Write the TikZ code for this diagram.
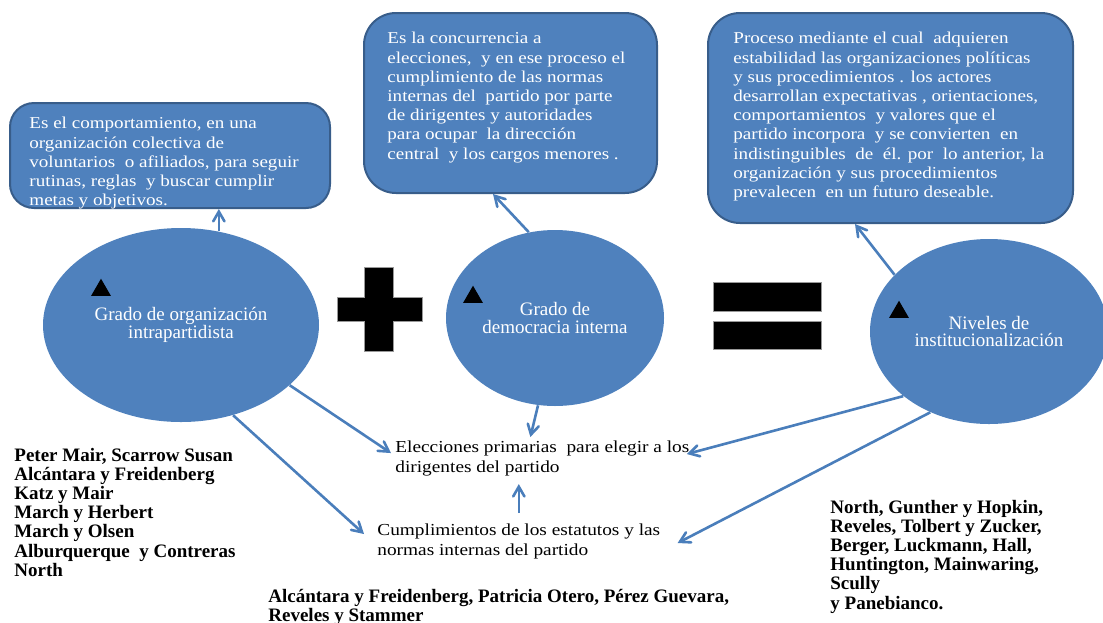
\documentclass[tikz,border=0pt]{standalone}
\usepackage{fontspec}
\setmainfont{Liberation Serif}
\newfontfamily\widefont[FakeStretch=1.15]{Liberation Serif}
\definecolor{colfill}{RGB}{79,129,189}
\definecolor{colborder}{RGB}{56,93,138}
\definecolor{colarrow}{RGB}{74,126,187}
\usetikzlibrary{
	arrows,
	shapes.geometric
}
\tikzset{
	>=angle 60,
	textbox/.style={rectangle, rounded corners=12pt, fill=colfill, draw=colborder, line width=1pt},
	boxtext/.style={anchor=north west, inner sep=0pt, align=left, text=white, font=\widefont\fontsize{8.3}{9.6}\selectfont},
	conceptnode/.style={ellipse, fill=colfill, inner sep=0pt, align=center, text=white, font=\fontsize{9.5}{8.7}\selectfont},
	linkedge/.style={->, line width=1.3pt, color=colarrow},
	plaintext/.style={anchor=north west, inner sep=0pt, align=left, font=\widefont\fontsize{8.4}{10}\selectfont},
	authortext/.style={anchor=north west, inner sep=0pt, align=left, font=\fontsize{9.5}{9.55}\selectfont\bfseries},
	marktri/.style={regular polygon, regular polygon sides=3, fill=black, inner sep=0pt, minimum size=11.5pt},
	opsign/.style={fill=black, draw=black!40, line width=0.4pt}
}

\begin{document}
\begin{tikzpicture}[x=0.5pt, y=-0.5pt]
	\useasboundingbox (0,0) rectangle (1103,622);

	% definition boxes
	\node[textbox, rounded corners=12pt, minimum width=160pt, minimum height=52.5pt] (box1) at (170,155.5) {};
	\node[textbox, rounded corners=16pt, minimum width=146.5pt, minimum height=90pt] (box2) at (510.5,103) {};
	\node[textbox, rounded corners=16pt, minimum width=182.5pt, minimum height=105pt] (box3) at (890.5,118) {};

	\node[boxtext] (txt1) at ([xshift=10pt, yshift=-7.5pt]box1.north west)
		{Es el comportamiento, en una\\
		organización colectiva de\\
		voluntarios~ o afiliados, para seguir\\
		rutinas, reglas~ y buscar cumplir\\
		metas y objetivos.};
	\node[boxtext] (txt2) at ([xshift=12pt, yshift=-10pt]box2.north west)
		{Es la concurrencia a\\
		elecciones,~ y en ese proceso el\\
		cumplimiento de las normas\\
		internas del~ partido por parte\\
		de dirigentes y autoridades\\
		para ocupar~ la dirección\\
		central~ y los cargos menores .};
	\node[boxtext] (txt3) at ([xshift=13pt, yshift=-10pt]box3.north west)
		{Proceso mediante el cual~ adquieren\\
		estabilidad las organizaciones políticas\\
		y sus procedimientos . los actores\\
		desarrollan expectativas , orientaciones,\\
		comportamientos~ y valores que el\\
		partido incorpora~ y se convierten~ en\\
		indistinguibles~ de~ él. por~ lo anterior, la\\
		organización y sus procedimientos\\
		prevalecen~ en un futuro deseable.};

	% concepts
	\node[conceptnode, minimum width=138pt, minimum height=97pt] (ell1) at (181,325) {Grado de organización\\intrapartidista};
	\node[conceptnode, minimum width=109pt, minimum height=88pt] (ell2) at (555,318) {Grado de\\democracia interna};
	\node[conceptnode, minimum width=119pt, minimum height=92.5pt] (ell3) at (989,331.5) {Niveles de\\institucionalización};

	\node[marktri] (tri1) at (101,290.2) {};
	\node[marktri] (tri2) at (473,297.2) {};
	\node[marktri] (tri3) at (899,312.2) {};

	% plus and equals
	\filldraw[opsign] (337,297) -- (364,297) -- (364,267) -- (393,267) -- (393,297) -- (422,297)
		-- (422,321) -- (393,321) -- (393,351) -- (364,351) -- (364,321) -- (337,321) -- cycle;
	\filldraw[opsign] (713,282) rectangle (821,311);
	\filldraw[opsign] (713,321) rectangle (821,349);

	% results
	\node[plaintext] (elec) at (395,440) {Elecciones primarias~ para elegir a los\\dirigentes del partido};
	\node[plaintext] (cump) at (377,523) {Cumplimientos de los estatutos y las\\normas internas del partido};
	\coordinate (elecfoot) at (cump.north |- elec.south);

	% authors
	\node[authortext] (auth1) at (14,448)
		{Peter Mair, Scarrow Susan\\Alcántara y Freidenberg\\Katz y Mair\\March y Herbert\\March y Olsen\\Alburquerque~ y Contreras\\North};
	\node[authortext] (auth2) at (268,589)
		{Alcántara y Freidenberg, Patricia Otero, Pérez Guevara,\\Reveles y Stammer};
	\node[authortext] (auth3) at (830,500)
		{North, Gunther y Hopkin,\\Reveles, Tolbert y Zucker,\\Berger, Luckmann, Hall,\\Huntington, Mainwaring,\\Scully\\y Panebianco.};

	% connectors
	\draw[linkedge] (ell1.68) -- (ell1.68 |- box1.south);
	\draw[linkedge] (ell2.107) -- ([xshift=-8.75pt]box2.south);
	\draw[linkedge] (ell3.149) -- ([xshift=-17.75pt]box3.south);

	\draw[linkedge] (ell1.-29) -- ([xshift=-2pt, yshift=2.5pt]elec.west);
	\draw[linkedge] (ell1.-60) -- ([xshift=-6.5pt, yshift=3.5pt]cump.west);
	\draw[linkedge] (ell2.-101) -- ([xshift=-6pt, yshift=1.5pt]elec.north);
	\draw[linkedge] ([yshift=5pt]cump.north) -- ([yshift=-4pt]elecfoot);
	\draw[linkedge] (ell3.-143) -- ([xshift=-1.5pt, yshift=2pt]elec.east);
	\draw[linkedge] (ell3.-126) -- ([xshift=8.5pt, yshift=-1pt]cump.east);
\end{tikzpicture}
\end{document}
